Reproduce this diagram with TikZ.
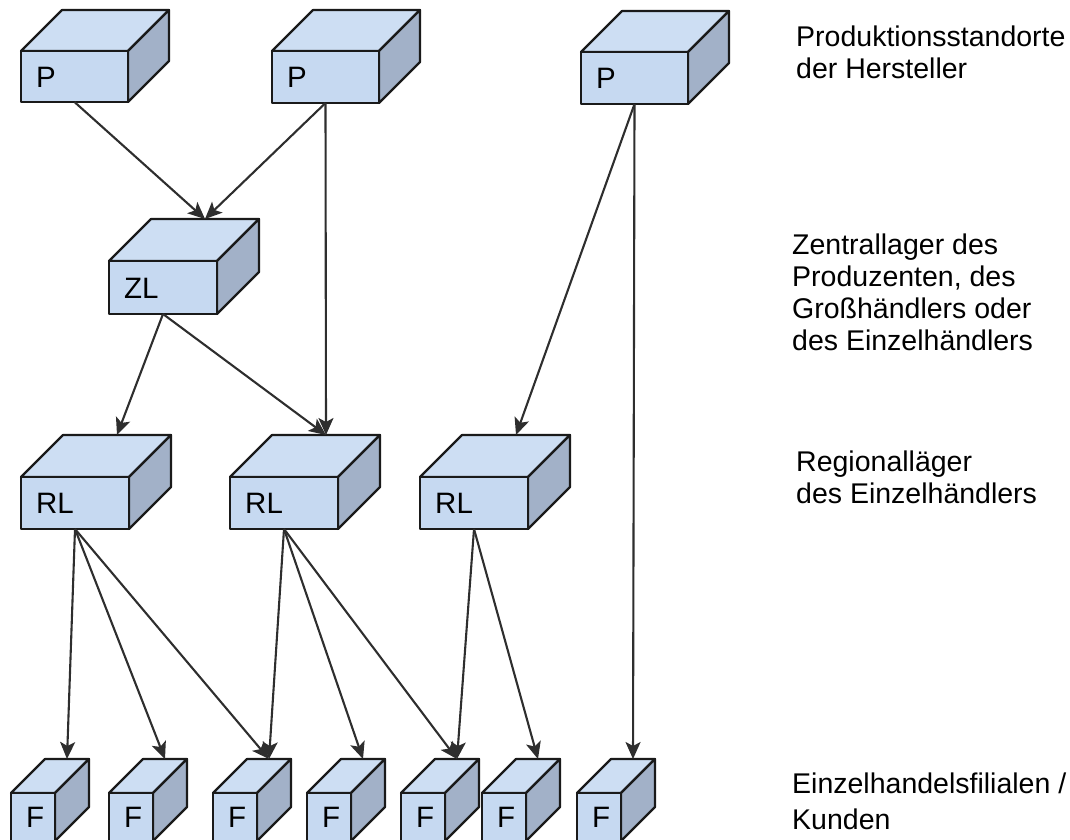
\documentclass[tikz,border=0pt]{standalone}
\usepackage{fontspec}
\setmainfont{Liberation Sans}
\usetikzlibrary{arrows.meta}
\definecolor{frontc}{HTML}{C6D9F1}
\definecolor{topc}{HTML}{CDDEF3}
\definecolor{sidec}{HTML}{A2B1C8}
\definecolor{edgec}{HTML}{1A1A1A}
\definecolor{arrc}{HTML}{2E2E2E}
\tikzset{
  face/.style={draw=edgec, line width=2.2pt, line join=round},
  frontface/.style={face, fill=frontc, inner sep=0pt, outer sep=0pt},
  lbl/.style={inner sep=0pt, font=\fontsize{29.5}{32}\selectfont},
  txt/.style={inner sep=0pt, align=left, font=\fontsize{28.5}{32}\selectfont},
  arr/.style={draw=arrc, line width=2.1pt, -{Stealth[length=17pt,width=15pt,inset=4pt]}}
}
% name, x, y, w, h, d, label
\newcommand{\mycube}[7]{%
  \fill[topc] (#2,#3) -- ({#2+#6},{#3-#6}) -- ({#2+#4+#6},{#3-#6}) -- ({#2+#4},#3) -- cycle;
  \draw[face] (#2,#3) -- ({#2+#6},{#3-#6}) -- ({#2+#4+#6},{#3-#6}) -- ({#2+#4},#3) -- cycle;
  \draw[face, fill=sidec] ({#2+#4},#3) -- ({#2+#4+#6},{#3-#6}) -- ({#2+#4+#6},{#3+#5-#6}) -- ({#2+#4},{#3+#5}) -- cycle;
  \node[frontface, anchor=north west, minimum width=#4pt, minimum height=#5pt] (#1) at (#2,#3) {};
  \node[lbl, anchor=base west] (#1-l) at ({#2+15},{#3+#5/2+10.5}) {#7};
  \coordinate (#1-in) at ({#2+#6+#4/2},{#3-#6});
}
\begin{document}
\begin{tikzpicture}[x=1pt,y=-1pt]
\useasboundingbox (0,0) rectangle (1070,839);
% production
\mycube{p1}{21}{51}{107}{51}{41}{P}
\mycube{p2}{272}{51}{107}{52}{41}{P}
\mycube{p3}{581}{52}{107}{52}{41}{P}
% central
\mycube{zl}{109}{261}{108}{53}{42}{ZL}
% regional
\mycube{rl1}{21}{477}{108}{52}{42}{RL}
\mycube{rl2}{230}{477}{108}{52}{42}{RL}
\mycube{rl3}{420}{477}{108}{52}{42}{RL}
% branches
\mycube{f1}{11}{793}{44}{48}{34}{F}
\mycube{f2}{109}{793}{44}{48}{34}{F}
\mycube{f3}{213}{793}{44}{48}{34}{F}
\mycube{f4}{307}{793}{44}{48}{34}{F}
\mycube{f5}{401}{793}{44}{48}{34}{F}
\mycube{f6}{482}{793}{44}{48}{34}{F}
\mycube{f7}{577}{793}{44}{48}{34}{F}
% arrows
\draw[arr] (p1.south) -- (zl-in);
\draw[arr] (p2.south) -- (zl-in);
\draw[arr] (p2.south) -- (rl2-in);
\draw[arr] (p3.south) -- (rl3-in);
\draw[arr] (p3.south) -- (f7-in);
\draw[arr] (zl.south) -- (rl1-in);
\draw[arr] (zl.south) -- (rl2-in);
\draw[arr] (rl1.south) -- (f1-in);
\draw[arr] (rl1.south) -- (f2-in);
\draw[arr] (rl1.south) -- (f3-in);
\draw[arr] (rl2.south) -- (f3-in);
\draw[arr] (rl2.south) -- (f4-in);
\draw[arr] (rl2.south) -- (f5-in);
\draw[arr] (rl3.south) -- (f5-in);
\draw[arr] (rl3.south) -- (f6-in);
% texts
\node[txt, anchor=base west] (t1) at (796,78) {Produktionsstandorte\\der Hersteller};
\node[txt, anchor=base west] (t2) at (792,350) {Zentrallager des\\Produzenten, des\\Großhändlers oder\\des Einzelhändlers};
\node[txt, anchor=base west] (t3) at (796,503) {Regionalläger\\des Einzelhändlers};
\node[txt, anchor=base west, font=\fontsize{28.5}{36}\selectfont] (t4) at (792,829) {Einzelhandelsfilialen /\\Kunden};
\end{tikzpicture}
\end{document}
